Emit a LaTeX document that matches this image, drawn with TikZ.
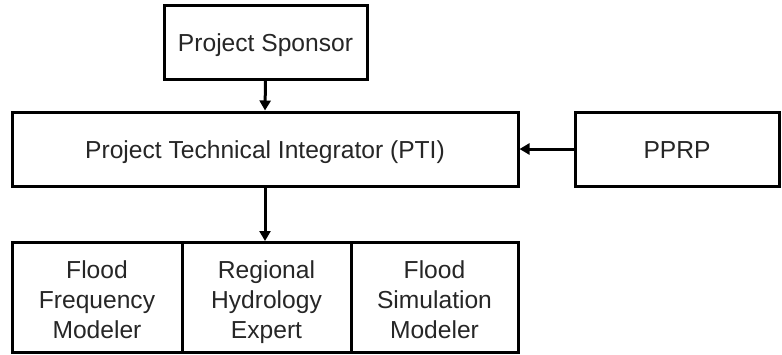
\documentclass[tikz,border=0pt]{standalone}
\usepackage{fontspec}
\setmainfont{Liberation Sans}
\usetikzlibrary{arrows.meta}
\begin{document}
\begin{tikzpicture}[x=1pt,y=-1pt,
  box/.style={draw=black, line width=3pt, fill=white, inner sep=0pt, align=center,
    font=\fontsize{24.6}{30}\selectfont, text=black!85},
  one/.style={box, text height=19.5pt, text depth=0pt},
  three/.style={box, text height=81pt, text depth=0pt},
  conn/.style={line width=3pt, -{Triangle[length=10pt,width=11pt]}}]
\useasboundingbox (0,0) rectangle (782,354);
\node[one, minimum width=203pt, minimum height=74pt] (sp) at (265.5,42) {Project Sponsor};
\node[one, minimum width=506pt, minimum height=74pt] (pti) at (265,149) {Project Technical Integrator (PTI)};
\node[one, minimum width=204pt, minimum height=74pt] (pprp) at (677,149) {PPRP};
\node[three, minimum width=170pt, minimum height=110pt] (ffm) at (97,297.5) {Flood\\Frequency\\Modeler};
\node[three, minimum width=169pt, minimum height=110pt] (rhe) at (266.5,297.5) {Regional\\Hydrology\\Expert};
\node[three, minimum width=167pt, minimum height=110pt] (fsm) at (434.5,297.5) {Flood\\Simulation\\Modeler};
\draw[conn] (sp.south) -- (pti.north);
\draw[conn] (pprp.west) -- (pti.east);
\draw[conn] (pti.south) -- (pti.south |- rhe.north);
\end{tikzpicture}
\end{document}
